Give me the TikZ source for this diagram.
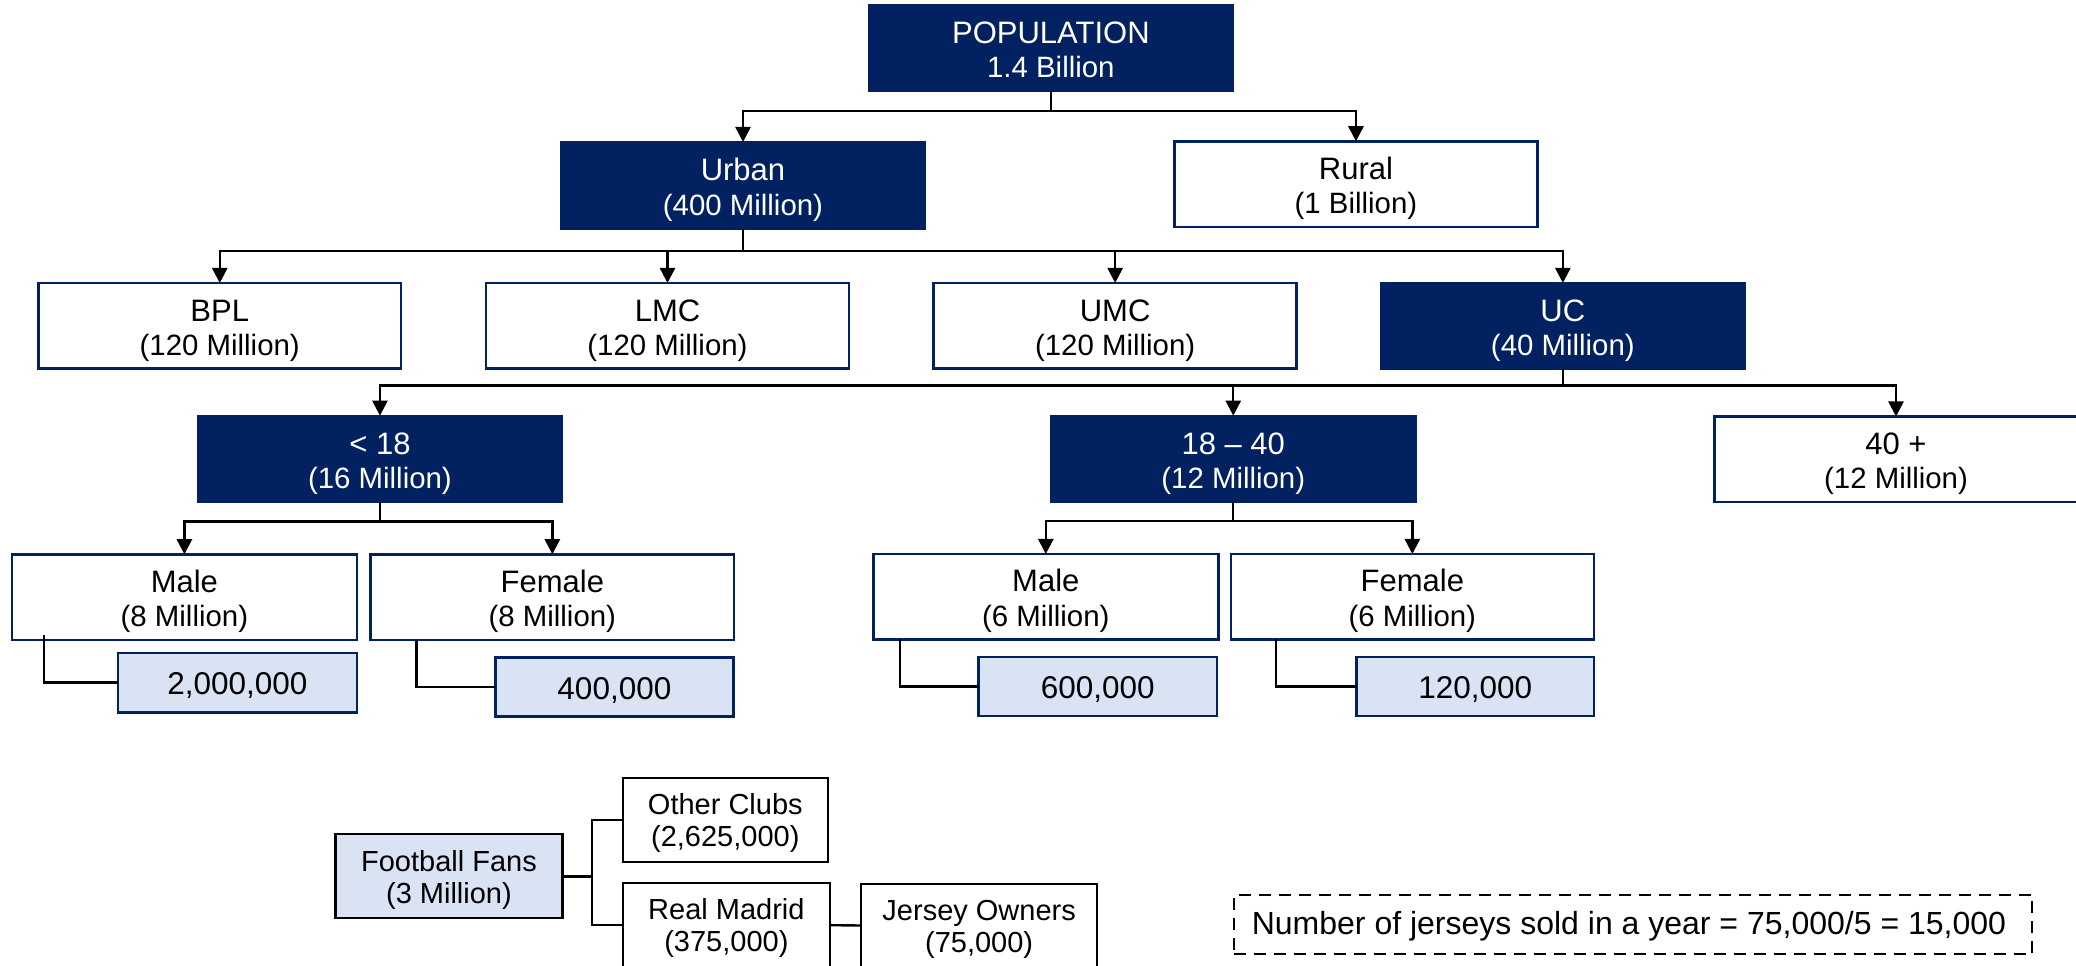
\documentclass[tikz,border=0pt]{standalone}
\usepackage{fontspec}
\setmainfont{Liberation Sans}
\usetikzlibrary{arrows.meta,calc,fit}
\definecolor{navy}{RGB}{2,33,96}
\definecolor{paleblue}{RGB}{218,227,243}

\tikzset{
  bxbase/.style={rectangle, inner sep=0pt, outer sep=0pt},
  bxdark/.style={bxbase, fill=navy, draw=navy, line width=1pt},
  bxlight/.style={bxbase, fill=white, draw=navy, line width=1.3pt},
  bxval/.style={bxbase, fill=paleblue, draw=navy, line width=1.3pt},
  bxplain/.style={bxbase, fill=white, draw=black, line width=1.1pt},
  bxfan/.style={bxbase, fill=paleblue, draw=black, line width=1.1pt},
  bxnote/.style={bxbase, draw=black, line width=1pt, dash pattern=on 6pt off 4pt},
  darktxt/.style={text=white},
  lighttxt/.style={text=black},
  valtxt/.style={text=black},
  plaintxt/.style={text=black},
  fantxt/.style={text=black},
  ta/.style={anchor=base, inner sep=0pt, font=\fontsize{15.5}{18}\selectfont},
  tb/.style={anchor=base, inner sep=0pt, font=\fontsize{14.7}{17}\selectfont},
  tc/.style={anchor=base, inner sep=0pt, font=\fontsize{14.5}{17}\selectfont},
  tv/.style={anchor=base, inner sep=0pt, font=\fontsize{15.75}{18}\selectfont},
  tn/.style={anchor=base, inner sep=0pt, font=\fontsize{16}{18}\selectfont},
  conn/.style={draw=black, line width=1.2pt},
  arr/.style={conn, -{Triangle[length=7.6pt,width=7.6pt]}},
}

% two-line box: style, name, x1, y1, x2, y2, first line, second line
\newcommand\twobox[8]{%
  \node[bx#1, fit={(#3,#4) (#5,#6)}] (#2) {};
  \node[ta, #1txt] (#2-a) at ($(#2.center)+(0,-4.7)$) {#7};
  \node[tb, #1txt] (#2-b) at ($(#2.center)+(0,29.5)$) {#8};}
% two-line box of the football block
\newcommand\fanbox[8]{%
  \node[bx#1, fit={(#3,#4) (#5,#6)}] (#2) {};
  \node[tc, #1txt] (#2-a) at ($(#2.center)+(0,-5.3)$) {#7};
  \node[tc, #1txt] (#2-b) at ($(#2.center)+(0,26.8)$) {#8};}
% one-line value box
\newcommand\onebox[7]{%
  \node[bx#1, fit={(#3,#4) (#5,#6)}] (#2) {};
  \node[tv, #1txt] (#2-a) at ($(#2.center)+(0,12)$) {#7};}

\begin{document}
\begin{tikzpicture}[x=0.5pt, y=-0.5pt]
\fill[white] (0,0) rectangle (2076,965);
\useasboundingbox (0,0) rectangle (2076,965);

% population tree
\twobox{dark}{pop}{868.7}{4.7}{1233}{91}{POPULATION}{1.4 Billion}
\twobox{dark}{urban}{561}{142}{925}{229}{Urban}{(400 Million)}
\twobox{light}{rural}{1174.6}{141.3}{1537.3}{227}{Rural}{(1 Billion)}
\twobox{light}{bpl}{38.5}{283}{401}{368.7}{BPL}{(120 Million)}
\twobox{light}{lmc}{486}{283}{849}{368.7}{LMC}{(120 Million)}
\twobox{light}{umc}{933.7}{283}{1296.6}{368.7}{UMC}{(120 Million)}
\twobox{dark}{uc}{1380.8}{283}{1744.9}{369}{UC}{(40 Million)}
\twobox{dark}{ya}{197.6}{415.7}{562.3}{502.3}{< 18}{(16 Million)}
\twobox{dark}{yb}{1051}{415.7}{1415.5}{502.3}{18 – 40}{(12 Million)}
\twobox{light}{yc}{1714.5}{416.5}{2077.5}{502}{40 +}{(12 Million)}
\twobox{light}{ma}{12}{554.3}{356.8}{640}{Male}{(8 Million)}
\twobox{light}{fa}{370.7}{554.3}{734}{640}{Female}{(8 Million)}
\twobox{light}{mb}{873.2}{554}{1218.4}{639.3}{Male}{(6 Million)}
\twobox{light}{fb}{1230.8}{554}{1593.9}{639.3}{Female}{(6 Million)}

% football fans per group
\onebox{val}{va}{118}{653}{356.8}{712.3}{2,000,000}
\onebox{val}{vb}{495.4}{657.7}{733.4}{716.7}{400,000}
\onebox{val}{vc}{978.7}{657}{1216.9}{716}{600,000}
\onebox{val}{vd}{1356.5}{657}{1593.9}{716}{120,000}

% connectors of the tree
\coordinate (j0) at ($(pop.south)+(0,20)$);
\draw[conn] (pop.south) -- (j0);
\draw[arr] (j0) -| (urban.north);
\draw[arr] (j0) -| (rural.north);

\coordinate (j1) at ($(urban.south)+(0,21.7)$);
\draw[conn] (urban.south) -- (j1);
\foreach \t in {bpl,lmc,umc,uc} \draw[arr] (j1) -| (\t.north);

\coordinate (j2) at ($(uc.south)+(0,16.3)$);
\draw[conn] (uc.south) -- (j2);
\foreach \t in {ya,yb,yc} \draw[arr] (j2) -| (\t.north);

\coordinate (j3) at ($(ya.south)+(0,19)$);
\draw[conn] (ya.south) -- (j3);
\foreach \t in {ma,fa} \draw[arr] (j3) -| (\t.north);

\coordinate (j4) at ($(yb.south)+(0,18.4)$);
\draw[conn] (yb.south) -- (j4);
\foreach \t in {mb,fb} \draw[arr] (j4) -| (\t.north);

\draw[conn] ($(ma.south west)+(31.8,-5)$) |- (va.west);
\draw[conn] ($(fa.south west)+(45.7,0)$) |- (vb.west);
\draw[conn] ($(mb.south west)+(27,0)$) |- (vc.west);
\draw[conn] ($(fb.south west)+(45,0)$) |- (vd.west);

% football fans breakdown
\fanbox{fan}{ff}{335.4}{834.3}{562.5}{918.3}{Football Fans}{(3 Million)}
\fanbox{plain}{oc}{623}{778.3}{827.6}{861.7}{Other Clubs}{(2,625,000)}
\fanbox{plain}{rm}{623}{883.3}{829.7}{967}{Real Madrid}{(375,000)}
\fanbox{plain}{jo}{861.3}{884}{1097}{967}{Jersey Owners}{(75,000)}

\coordinate (j5) at ($(ff.east)+(29.4,0)$);
\draw[conn] (ff.east) -- (j5);
\draw[conn] (oc.west) -| (j5) |- (rm.west);
\draw[conn] (rm.east) -- (jo.west);

% yearly sales note
\node[bxnote, fit={(1233.5,895) (2032.4,954.3)}] (note) {};
\node[tn] (note-a) at ($(note.center)+(-4,10.3)$) {Number of jerseys sold in a year = 75,000/5 = 15,000};
\end{tikzpicture}
\end{document}
